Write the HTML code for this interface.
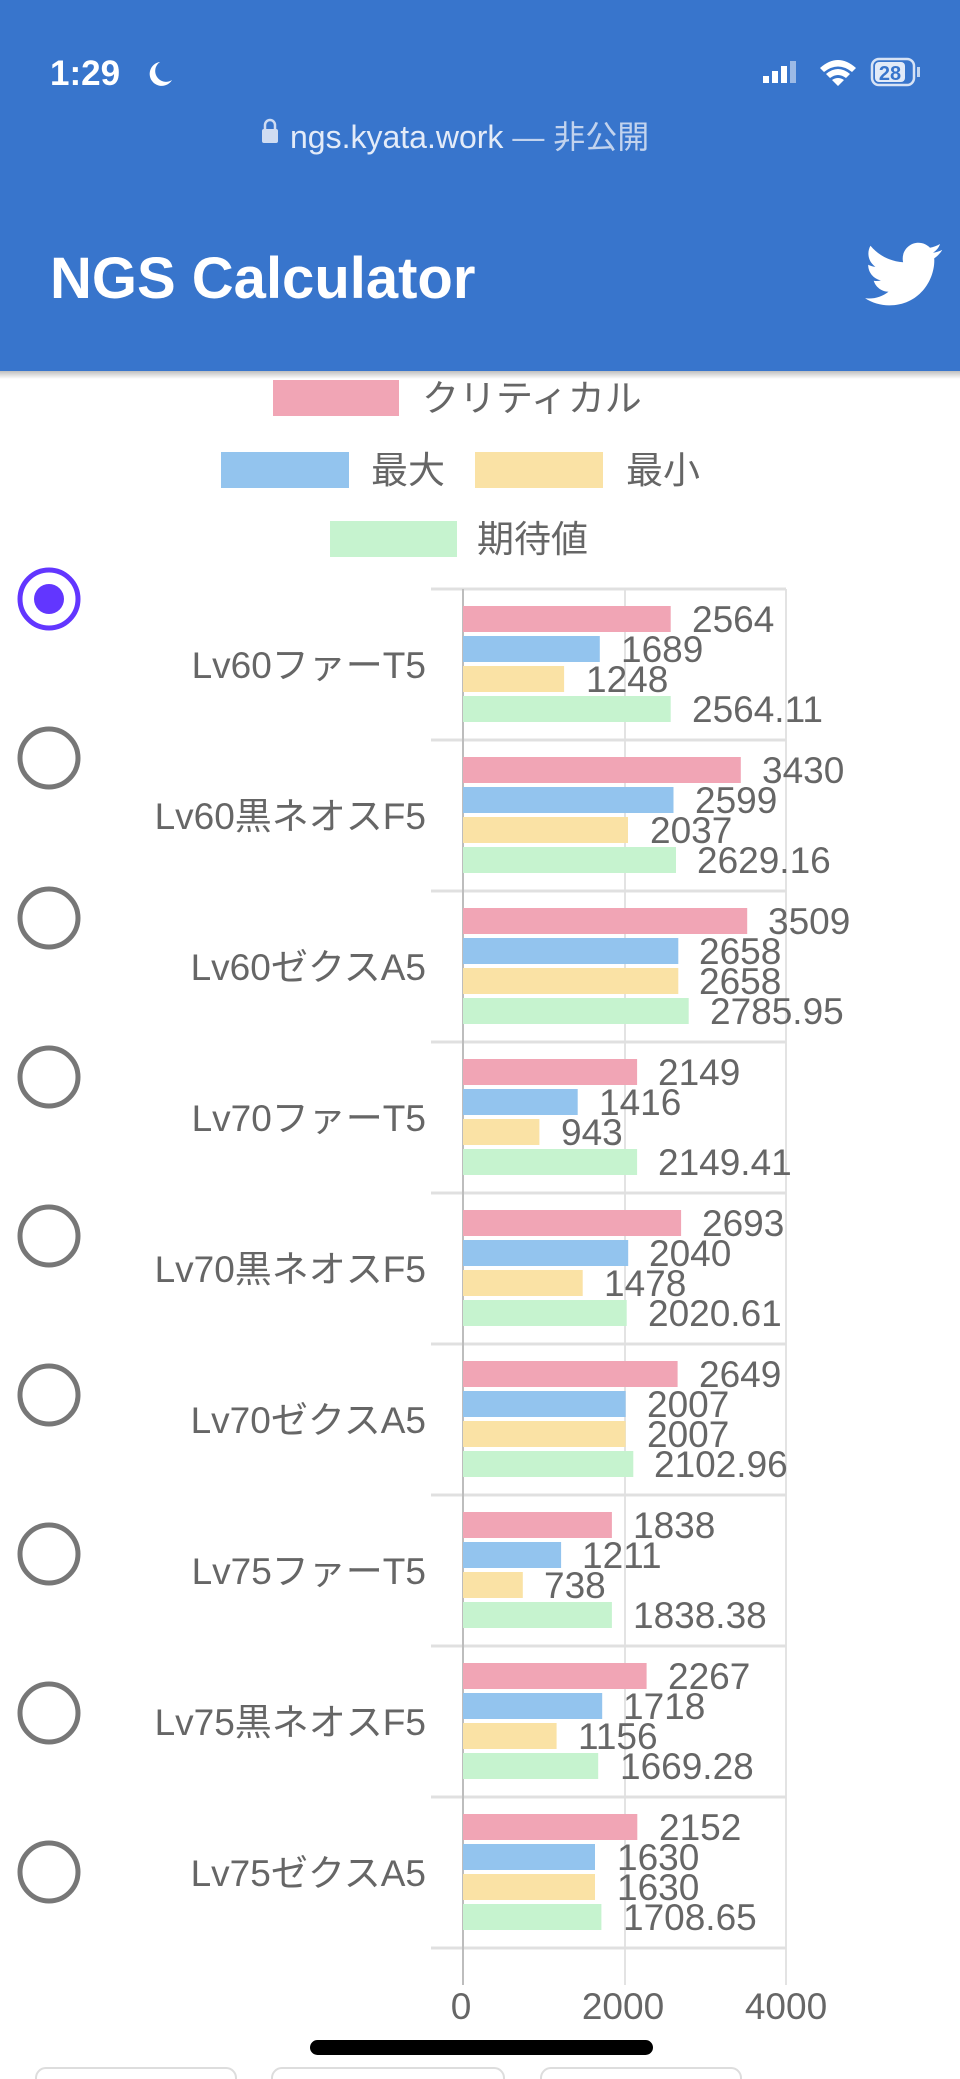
<!DOCTYPE html>
<html><head><meta charset="utf-8"><style>
html,body{margin:0;padding:0;background:#fff;}
svg{display:block;font-family:"Liberation Sans","Noto Sans CJK JP",sans-serif;}
</style></head><body>
<svg width="960" height="2079" viewBox="0 0 960 2079" xmlns="http://www.w3.org/2000/svg">
<defs><linearGradient id="sh" x1="0" y1="0" x2="0" y2="1"><stop offset="0" stop-color="#000" stop-opacity="0.25"/><stop offset="1" stop-color="#000" stop-opacity="0"/></linearGradient></defs>
<rect x="0" y="0" width="960" height="371" fill="#3875CC"/>
<rect x="0" y="371" width="960" height="8" fill="url(#sh)"/>
<text x="50" y="85" font-size="35" font-weight="bold" fill="#fff">1:29</text>
<path d="M160 62 a12 12 0 1 0 12 18 a10 10 0 0 1 -12 -18z" fill="#fff"/>
<rect x="763" y="76" width="6" height="7" fill="#fff"/><rect x="772" y="71" width="6" height="12" fill="#fff"/><rect x="781" y="66" width="6" height="17" fill="#fff"/><rect x="790" y="61" width="6" height="22" fill="#fff" opacity="0.5"/>
<path d="M820 68 q18 -16 36 0 l-4 4 q-14 -11 -28 0z M826 74 q12 -10 24 0 l-4 4 q-8 -6 -16 0z M832 80 l6 6 l6 -6 q-6 -4 -12 0z" fill="#fff"/>
<rect x="872" y="59" width="42" height="26" rx="7" fill="none" stroke="#fff" stroke-width="2.5" opacity="0.8"/>
<rect x="875" y="62" width="30" height="20" rx="4" fill="#fff" opacity="0.85"/>
<text x="890" y="80" font-size="20" font-weight="bold" fill="#3875CC" text-anchor="middle">28</text>
<rect x="917" y="67" width="3" height="10" fill="#fff" opacity="0.7"/>
<rect x="262" y="129" width="16" height="14" rx="2" fill="#cfdcf2"/><path d="M265 130 v-5 a5 5 0 0 1 10 0 v5" fill="none" stroke="#cfdcf2" stroke-width="2.5"/>
<text x="290" y="148" font-size="32" fill="#e3ebf8">ngs.kyata.work <tspan fill="#c2d3ee">— 非公開</tspan></text>
<text x="50" y="298" font-size="58" font-weight="bold" fill="#fff">NGS Calculator</text>
<path d="M942 250 c-3 1.5 -6 2.3 -9 2.7 c3.3 -2 5.8 -5 7 -8.7 c-3 1.8 -6.4 3.1 -10 3.8 c-2.9 -3 -7 -5 -11.5 -5 c-8.7 0 -15.8 7 -15.8 15.800 c0 1.2 0.1 2.4 0.4 3.6 c-13.1 -0.7 -24.8 -7 -32.6 -16.5 c-1.4 2.3 -2.1 5 -2.1 7.9 c0 5.5 2.8 10.3 7 13.1 c-2.6 -0.1 -5 -0.8 -7.2 -2 v0.2 c0 7.7 5.4 14 12.7 15.5 c-1.3 0.4 -2.7 0.6 -4.2 0.6 c-1 0 -2 -0.1 -3 -0.3 c2 6.3 7.9 10.9 14.8 11 c-5.4 4.2 -12.2 6.8 -19.6 6.8 c-1.3 0 -2.5 -0.1 -3.8 -0.2 c7 4.5 15.3 7.1 24.2 7.1 c29.1 0 45 -24.1 45 -45 l-0.1 -2 c3.1 -2.2 5.8 -5 7.900 -8.2z" fill="#fff"/>
<g font-size="37" fill="#666">
<rect x="273" y="380" width="126" height="36" fill="#F1A5B5"/><text x="422" y="411">クリティカル</text>
<rect x="221" y="452" width="128" height="36" fill="#93C4EE"/><text x="371" y="483">最大</text>
<rect x="475" y="452" width="128" height="36" fill="#FAE2A5"/><text x="626" y="483">最小</text>
<rect x="330" y="521" width="127" height="36" fill="#C6F3CF"/><text x="477" y="552">期待値</text>
</g>
<g stroke="#e3e3e3" stroke-width="2">
<line x1="625" y1="589" x2="625" y2="1985"/><line x1="786" y1="589" x2="786" y2="1985"/>
</g>
<g stroke="#e0e0e0" stroke-width="3">
<line x1="431" y1="589" x2="786" y2="589"/><line x1="431" y1="740" x2="786" y2="740"/><line x1="431" y1="891" x2="786" y2="891"/><line x1="431" y1="1042" x2="786" y2="1042"/><line x1="431" y1="1193" x2="786" y2="1193"/><line x1="431" y1="1344" x2="786" y2="1344"/><line x1="431" y1="1495" x2="786" y2="1495"/><line x1="431" y1="1646" x2="786" y2="1646"/><line x1="431" y1="1797" x2="786" y2="1797"/><line x1="431" y1="1948" x2="786" y2="1948"/>
</g>
<line x1="463" y1="589" x2="463" y2="1985" stroke="#bdbdbd" stroke-width="2"/>
<g font-size="37" fill="#666" text-anchor="middle"><text x="461" y="2019">0</text><text x="623" y="2019">2000</text><text x="786" y="2019">4000</text></g>

<g font-size="37" fill="#666">
<g transform="translate(0,589)"><text x="426" y="89" text-anchor="end">Lv60ファーT5</text>
<rect x="463" y="17" width="207.7" height="26" fill="#F1A5B5"/><rect x="463" y="47" width="136.8" height="26" fill="#93C4EE"/><rect x="463" y="77" width="101.1" height="26" fill="#FAE2A5"/><rect x="463" y="107" width="207.7" height="26" fill="#C6F3CF"/>
<text x="692" y="43">2564</text><text x="621" y="73">1689</text><text x="586" y="103">1248</text><text x="692" y="133">2564.11</text></g>
<g transform="translate(0,740)"><text x="426" y="89" text-anchor="end">Lv60黒ネオスF5</text>
<rect x="463" y="17" width="277.8" height="26" fill="#F1A5B5"/><rect x="463" y="47" width="210.5" height="26" fill="#93C4EE"/><rect x="463" y="77" width="165" height="26" fill="#FAE2A5"/><rect x="463" y="107" width="213" height="26" fill="#C6F3CF"/>
<text x="762" y="43">3430</text><text x="695" y="73">2599</text><text x="650" y="103">2037</text><text x="697" y="133">2629.16</text></g>
<g transform="translate(0,891)"><text x="426" y="89" text-anchor="end">Lv60ゼクスA5</text>
<rect x="463" y="17" width="284.2" height="26" fill="#F1A5B5"/><rect x="463" y="47" width="215.3" height="26" fill="#93C4EE"/><rect x="463" y="77" width="215.3" height="26" fill="#FAE2A5"/><rect x="463" y="107" width="225.7" height="26" fill="#C6F3CF"/>
<text x="768" y="43">3509</text><text x="699" y="73">2658</text><text x="699" y="103">2658</text><text x="710" y="133">2785.95</text></g>
<g transform="translate(0,1042)"><text x="426" y="89" text-anchor="end">Lv70ファーT5</text>
<rect x="463" y="17" width="174.1" height="26" fill="#F1A5B5"/><rect x="463" y="47" width="114.7" height="26" fill="#93C4EE"/><rect x="463" y="77" width="76.4" height="26" fill="#FAE2A5"/><rect x="463" y="107" width="174.1" height="26" fill="#C6F3CF"/>
<text x="658" y="43">2149</text><text x="599" y="73">1416</text><text x="561" y="103">943</text><text x="658" y="133">2149.41</text></g>
<g transform="translate(0,1193)"><text x="426" y="89" text-anchor="end">Lv70黒ネオスF5</text>
<rect x="463" y="17" width="218.1" height="26" fill="#F1A5B5"/><rect x="463" y="47" width="165.2" height="26" fill="#93C4EE"/><rect x="463" y="77" width="119.7" height="26" fill="#FAE2A5"/><rect x="463" y="107" width="163.7" height="26" fill="#C6F3CF"/>
<text x="702" y="43">2693</text><text x="649" y="73">2040</text><text x="604" y="103">1478</text><text x="648" y="133">2020.61</text></g>
<g transform="translate(0,1344)"><text x="426" y="89" text-anchor="end">Lv70ゼクスA5</text>
<rect x="463" y="17" width="214.6" height="26" fill="#F1A5B5"/><rect x="463" y="47" width="162.6" height="26" fill="#93C4EE"/><rect x="463" y="77" width="162.6" height="26" fill="#FAE2A5"/><rect x="463" y="107" width="170.3" height="26" fill="#C6F3CF"/>
<text x="699" y="43">2649</text><text x="647" y="73">2007</text><text x="647" y="103">2007</text><text x="654" y="133">2102.96</text></g>
<g transform="translate(0,1495)"><text x="426" y="89" text-anchor="end">Lv75ファーT5</text>
<rect x="463" y="17" width="148.9" height="26" fill="#F1A5B5"/><rect x="463" y="47" width="98.1" height="26" fill="#93C4EE"/><rect x="463" y="77" width="59.8" height="26" fill="#FAE2A5"/><rect x="463" y="107" width="148.9" height="26" fill="#C6F3CF"/>
<text x="633" y="43">1838</text><text x="582" y="73">1211</text><text x="544" y="103">738</text><text x="633" y="133">1838.38</text></g>
<g transform="translate(0,1646)"><text x="426" y="89" text-anchor="end">Lv75黒ネオスF5</text>
<rect x="463" y="17" width="183.6" height="26" fill="#F1A5B5"/><rect x="463" y="47" width="139.2" height="26" fill="#93C4EE"/><rect x="463" y="77" width="93.6" height="26" fill="#FAE2A5"/><rect x="463" y="107" width="135.2" height="26" fill="#C6F3CF"/>
<text x="668" y="43">2267</text><text x="623" y="73">1718</text><text x="578" y="103">1156</text><text x="620" y="133">1669.28</text></g>
<g transform="translate(0,1797)"><text x="426" y="89" text-anchor="end">Lv75ゼクスA5</text>
<rect x="463" y="17" width="174.3" height="26" fill="#F1A5B5"/><rect x="463" y="47" width="132" height="26" fill="#93C4EE"/><rect x="463" y="77" width="132" height="26" fill="#FAE2A5"/><rect x="463" y="107" width="138.4" height="26" fill="#C6F3CF"/>
<text x="659" y="43">2152</text><text x="617" y="73">1630</text><text x="617" y="103">1630</text><text x="623" y="133">1708.65</text></g>
</g>

<circle cx="49" cy="599" r="29" fill="none" stroke="#6236FF" stroke-width="5"/><circle cx="49" cy="599" r="15" fill="#6236FF"/>
<g fill="none" stroke="#777" stroke-width="5">
<circle cx="49" cy="758" r="29"/><circle cx="49" cy="918" r="29"/><circle cx="49" cy="1077" r="29"/><circle cx="49" cy="1236" r="29"/><circle cx="49" cy="1395" r="29"/><circle cx="49" cy="1554" r="29"/><circle cx="49" cy="1713" r="29"/><circle cx="49" cy="1872" r="29"/>
</g>
<g fill="none" stroke="#ddd" stroke-width="2">
<rect x="36" y="2068" width="200" height="30" rx="10"/><rect x="272" y="2068" width="232" height="30" rx="10"/><rect x="541" y="2068" width="200" height="30" rx="10"/>
</g>
<rect x="310" y="2040" width="343" height="15" rx="7.5" fill="#000"/>
</svg>
</body></html>
